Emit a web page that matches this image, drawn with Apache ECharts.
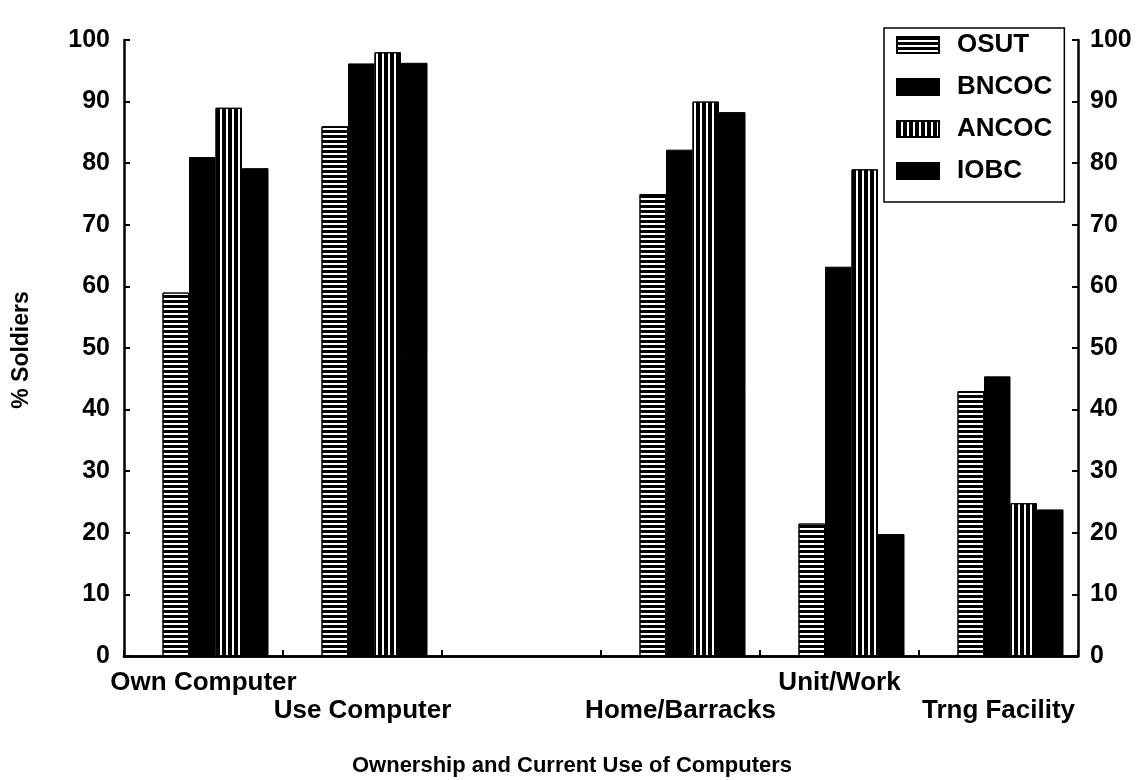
<!DOCTYPE html>
<html><head><meta charset="utf-8">
<script src="https://cdn.jsdelivr.net/npm/echarts@6/dist/echarts.min.js"></script>
<style>html,body{margin:0;padding:0;background:#fff}#c{width:1140px;height:780px}</style>
</head><body><div id="c"></div>
<script>
const categories = ['Own Computer', 'Use Computer', '', 'Home/Barracks', 'Unit/Work', 'Trng Facility'];
const labelLevel = ['up', 'down', 'up', 'down', 'up', 'down'];
const seriesNames = ['OSUT', 'BNCOC', 'ANCOC', 'IOBC'];
const osut  = [59, 86, '-', 75, 21.5, 43];
const bncoc = [81, 96.2, '-', 82.2, 63.2, 45.4];
const ancoc = [89, 98, '-', 90, 79, 24.8];
const iobc  = [79.2, 96.3, '-', 88.3, 19.8, 23.8];
const yTicks = [0, 10, 20, 30, 40, 50, 60, 70, 80, 90, 100];

const FONT = '"Liberation Sans", Arial, sans-serif';
const hStripe = {symbol: 'rect', symbolSize: 1, dashArrayX: [1, 0], dashArrayY: [3, 2], color: '#000', rotation: 0};
const vStripe = {symbol: 'rect', symbolSize: 1, dashArrayX: [4, 2], dashArrayY: [1, 0], color: '#000', rotation: 0};

const chart = echarts.init(document.getElementById('c'), null, {renderer: 'canvas'});
const BW = 26.5;
function bar(name, data, style) {
  return {name, type: 'bar', data, barWidth: BW, barGap: '0%', itemStyle: style, emphasis: {disabled: true}, animation: false};
}
chart.setOption({
  animation: false,
  backgroundColor: '#fff',
  grid: {left: 124, right: 62, top: 40, bottom: 124},
  legend: {
    data: seriesNames.map(n => ({name: n, icon: 'rect'})), orient: 'vertical', left: 884, top: 28,
    backgroundColor: '#fff', borderColor: '#000', borderWidth: 1.5,
    padding: [4, 12, 18, 12], itemWidth: 42, itemHeight: 16, itemGap: 16,
    textStyle: {fontFamily: FONT, fontWeight: 'bold', fontSize: 26, color: '#000', padding: [0, 0, 0, 13]},
    selectedMode: false
  },
  xAxis: [{
    type: 'category', data: categories,
    axisLine: {show: true, lineStyle: {color: '#000', width: 2.5}},
    axisTick: {show: true, inside: true, length: 6, lineStyle: {color: '#000', width: 2}},
    axisLabel: {
      interval: 0, margin: 14,
      formatter: (v, i) => v ? '{' + labelLevel[i] + '|' + v + '}' : '',
      rich: {
        up: {fontFamily: FONT, fontWeight: 'bold', fontSize: 26, color: '#000', padding: [0, 0, 0, 0]},
        down: {fontFamily: FONT, fontWeight: 'bold', fontSize: 26, color: '#000', padding: [28, 0, 0, 0]}
      }
    },
    splitLine: {show: false}
  }, {
    type: 'category', data: categories, position: 'top',
    axisLine: {show: true, lineStyle: {color: '#000', width: 2.5}},
    axisTick: {show: false}, axisLabel: {show: false}
  }],
  yAxis: [{
    type: 'value', min: 0, max: 100, interval: 10,
    axisLine: {show: true, lineStyle: {color: '#000', width: 2.5}},
    axisTick: {show: true, inside: true, length: 6, lineStyle: {color: '#000', width: 2}},
    axisLabel: {margin: 14, fontFamily: FONT, fontWeight: 'bold', fontSize: 25, color: '#000',
      formatter: v => yTicks.includes(v) ? String(v) : ''},
    splitLine: {show: false}
  }, {
    type: 'value', min: 0, max: 100, interval: 10, position: 'right',
    axisLine: {show: true, lineStyle: {color: '#000', width: 2.5}},
    axisTick: {show: true, inside: true, length: 6, lineStyle: {color: '#000', width: 2}},
    axisLabel: {margin: 12, fontFamily: FONT, fontWeight: 'bold', fontSize: 25, color: '#000',
      formatter: v => yTicks.includes(v) ? String(v) : ''},
    splitLine: {show: false}
  }],
  series: [
    {name: 'pad', type: 'bar', data: categories.map(() => '-'), barWidth: 24, barGap: '0%', silent: true},
    bar('OSUT', osut, {color: '#fff', borderColor: '#000', borderWidth: 1, decal: hStripe}),
    bar('BNCOC', bncoc, {color: '#000', borderColor: '#000', borderWidth: 1}),
    bar('ANCOC', ancoc, {color: '#fff', borderColor: '#000', borderWidth: 1, decal: vStripe}),
    bar('IOBC', iobc, {color: '#000', borderColor: '#000', borderWidth: 1})
  ],
  graphic: [
    {type: 'text', x: 22, y: 350, rotation: Math.PI / 2,
      style: {text: '% Soldiers', fontFamily: FONT, fontWeight: 'bold', fontSize: 23, fill: '#000', align: 'center', verticalAlign: 'middle'}},
    {type: 'text', x: 572, y: 766,
      style: {text: 'Ownership and Current Use of Computers', fontFamily: FONT, fontWeight: 'bold', fontSize: 22, fill: '#000', align: 'center', verticalAlign: 'middle'}}
  ]
});
</script></body></html>
